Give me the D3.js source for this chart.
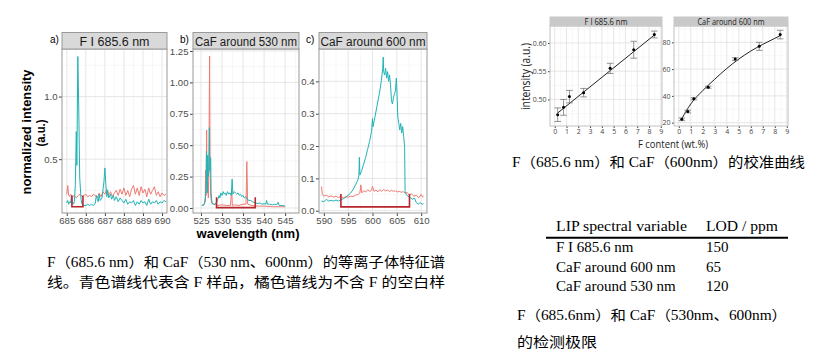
<!DOCTYPE html>
<html>
<head>
<meta charset="utf-8">
<script src="https://cdn.jsdelivr.net/npm/d3@7"></script>
<style>
  body { margin: 0; background: #fff; }
  svg { display: block; }
</style>
</head>
<body>
<svg id="chart" width="815" height="362"></svg>
<script>
// ---- spectra ----
// a) F I 685.6 nm
const aCyanWl = [685.00,685.05,685.10,685.15,685.20,685.25,685.30,685.35,685.40,685.45,685.50,685.53,685.58,685.63,685.68,685.75,685.80,685.90,686.00,686.10,686.20,686.30,686.40,686.50,686.55,686.60,686.65,686.70,686.75,686.85,686.95,687.00,687.05,687.10,687.15,687.20,687.30,687.35,687.45,687.50,687.60,687.70,687.80,687.90,688.00,688.10,688.20,688.30,688.40,688.50,688.60,688.70,688.80,688.90,689.00,689.10,689.20,689.30,689.40,689.50,689.60,689.70,689.80,689.90,690.00,690.10,690.20];
const aCyan = [0.15,0.17,0.14,0.16,0.15,0.21,0.15,0.14,0.16,0.30,0.72,0.45,1.32,0.90,0.35,0.18,0.14,0.13,0.13,0.14,0.13,0.14,0.13,0.15,0.21,0.18,0.16,0.22,0.17,0.19,0.32,0.43,0.30,0.20,0.25,0.19,0.22,0.18,0.21,0.17,0.20,0.16,0.19,0.17,0.15,0.18,0.14,0.16,0.15,0.17,0.13,0.16,0.14,0.17,0.15,0.16,0.13,0.18,0.14,0.16,0.15,0.17,0.14,0.16,0.15,0.17,0.16];
const aRedWl = [685.00,685.05,685.10,685.15,685.20,685.30,685.40,685.50,685.60,685.70,685.80,685.90,686.00,686.10,686.20,686.30,686.40,686.50,686.60,686.70,686.80,686.90,687.00,687.10,687.20,687.30,687.40,687.50,687.60,687.70,687.80,687.90,688.00,688.10,688.20,688.30,688.40,688.50,688.60,688.70,688.80,688.90,689.00,689.10,689.20,689.30,689.40,689.50,689.60,689.70,689.80,689.90,690.00,690.10,690.20];
const aRed = [0.22,0.29,0.21,0.20,0.22,0.20,0.21,0.19,0.21,0.22,0.20,0.21,0.22,0.20,0.21,0.20,0.22,0.21,0.19,0.23,0.20,0.24,0.22,0.26,0.21,0.24,0.20,0.23,0.25,0.21,0.26,0.22,0.27,0.21,0.25,0.20,0.26,0.29,0.22,0.27,0.21,0.28,0.23,0.26,0.20,0.27,0.22,0.25,0.28,0.21,0.24,0.20,0.23,0.21,0.22];

// b) CaF around 530 nm
const bCyanWl = [525.2,525.6,526.0,526.2,526.3,526.4,526.5,526.6,526.7,526.9,527.0,527.1,527.2,527.3,527.4,527.6,527.8,528.2,528.6,529.0,529.3,529.5,529.7,530.0,530.3,530.5,530.8,531.0,531.3,531.6,531.9,532.2,532.4,532.6,532.9,533.2,533.5,533.8,534.1,534.4,534.7,535.0,535.3,535.6,536.0,536.4,536.8,537.2,537.6,538.0,538.5,539.0,539.5,540.0,540.4,540.6,540.8,541.3,542.0,542.5,543.0,543.3,543.6,544.2,545.0];
const bCyan = [0.02,0.02,0.05,0.15,0.45,0.18,0.12,0.42,0.25,0.30,0.64,0.30,0.38,0.40,0.12,0.05,0.03,0.03,0.04,0.07,0.10,0.08,0.12,0.10,0.13,0.11,0.12,0.10,0.13,0.11,0.12,0.10,0.23,0.11,0.13,0.12,0.11,0.12,0.10,0.11,0.09,0.10,0.08,0.09,0.07,0.06,0.06,0.05,0.045,0.04,0.035,0.04,0.03,0.035,0.03,0.06,0.03,0.03,0.025,0.03,0.025,0.045,0.02,0.02,0.015];
const bRedWl = [525.2,525.8,526.0,526.1,526.2,526.35,526.45,526.6,526.75,526.9,527.05,527.15,527.3,527.5,528.0,529.0,530.0,531.0,532.0,532.3,532.45,533.0,534.0,535.0,535.7,535.9,536.1,537.0,538.0,540.0,542.0,545.0];
const bRed = [0.02,0.03,0.08,0.30,0.10,0.62,0.15,0.20,0.08,0.45,1.21,0.35,0.10,0.04,0.03,0.02,0.025,0.02,0.02,0.15,0.02,0.025,0.02,0.03,0.03,0.37,0.03,0.02,0.015,0.015,0.01,0.01];

// c) CaF around 600 nm
const cCyanWl = [589.5,590.0,590.5,591.0,591.5,592.0,592.5,593.0,593.5,594.0,594.5,595.0,595.5,596.0,596.5,597.0,597.2,597.3,597.4,597.8,598.2,598.6,599.0,599.4,599.8,600.0,600.1,600.5,601.0,601.5,601.8,602.1,602.2,602.3,602.5,602.7,602.9,603.1,603.3,603.5,603.7,603.9,604.1,604.3,604.5,604.7,604.9,605.0,605.2,605.4,605.6,605.8,606.0,606.2,606.4,606.6,606.7,606.9,607.3,607.8,608.3,608.6,609.0,609.4,609.8,610.2,610.5];
const cCyan = [0.030,0.028,0.035,0.030,0.032,0.030,0.033,0.030,0.034,0.037,0.042,0.048,0.055,0.065,0.080,0.095,0.110,0.165,0.110,0.125,0.145,0.165,0.190,0.215,0.245,0.285,0.260,0.290,0.330,0.370,0.400,0.440,0.475,0.430,0.420,0.440,0.410,0.430,0.400,0.420,0.390,0.340,0.330,0.350,0.360,0.370,0.410,0.380,0.290,0.270,0.250,0.270,0.240,0.260,0.230,0.200,0.060,0.050,0.045,0.040,0.035,0.040,0.025,0.020,0.025,0.020,0.022];
const cRedWl = [589.5,589.7,590.0,590.5,591.0,591.5,592.0,592.5,593.0,593.5,594.0,594.5,595.0,595.5,596.0,596.5,597.0,597.4,597.6,597.8,598.2,598.6,599.0,599.4,599.8,600.0,600.3,600.7,601.1,601.5,601.9,602.3,602.7,603.1,603.5,603.9,604.3,604.7,605.1,605.5,605.9,606.3,606.7,607.1,607.5,608.0,608.5,609.0,609.5,610.0,610.3,610.5];
const cRed = [0.075,0.050,0.045,0.048,0.043,0.046,0.042,0.045,0.041,0.044,0.040,0.043,0.042,0.045,0.044,0.048,0.050,0.055,0.080,0.055,0.062,0.058,0.065,0.060,0.063,0.075,0.060,0.064,0.058,0.065,0.060,0.066,0.061,0.064,0.059,0.063,0.060,0.062,0.058,0.060,0.057,0.059,0.055,0.056,0.050,0.052,0.045,0.048,0.040,0.050,0.042,0.045];

// integration windows marked in red: [wlFrom, wlTo, low, high]
const bracketA = [685.27, 685.85, 0.12, 0.21];
const bracketB = [528.7, 537.9, 0.003, 0.085];
const bracketC = [593.5, 607.6, 0.012, 0.052];

// ---- calibration ----
const fContent = [0.25, 0.75, 1.25, 2.45, 4.7, 6.7, 8.45];
const fIntensity = [0.473, 0.486, 0.505, 0.512, 0.555, 0.588, 0.615];
const fErr = [0.012, 0.014, 0.011, 0.0075, 0.009, 0.015, 0.006];
const fFitX = [0.25, 8.45];
const fFitY = [0.476, 0.614];
const cafIntensity = [22.5, 28.3, 37.8, 46.5, 67.5, 77.0, 85.8];
const cafErr = [1.0, 1.0, 0.8, 0.8, 1.0, 3.0, 3.2];
const cafFitX = [0.25, 1, 2, 3, 4, 5, 6, 7, 8, 8.45];
const cafFitY = [23, 34, 44, 52.5, 60.5, 67.5, 73.5, 78.5, 83, 85];

// ---- LOD table ----
const lodVariables = ["F I 685.6 nm", "CaF around 600 nm", "CaF around 530 nm"];
const lodValues = [150, 65, 120];

const cyan = "#22b3b5", salmon = "#f07a72", bracketRed = "#b8262d";
const sans = "'Liberation Sans', Arial, sans-serif";
const serif = "'Liberation Serif', 'Noto Sans CJK SC', serif";
const cjk = "'Liberation Serif', 'Noto Sans CJK SC', sans-serif";

const svg = d3.select("#chart");
svg.append("rect").attr("width", 815).attr("height", 362).attr("fill", "#fff");

function txt(parent, s, x, y, o = {}) {
  const t = parent.append("text")
    .attr("x", x).attr("y", y)
    .attr("font-family", o.family || sans)
    .attr("font-size", o.size || 12)
    .attr("fill", o.fill || "#000")
    .attr("text-anchor", o.anchor || "start")
    .text(s);
  if (o.weight) t.attr("font-weight", o.weight);
  if (o.len) t.attr("textLength", o.len).attr("lengthAdjust", "spacingAndGlyphs");
  if (o.rotate) t.attr("transform", `rotate(${o.rotate},${x},${y})`);
  return t;
}

let clipId = 0;
function facet(p) {
  const x = d3.scaleLinear().domain(p.xDomain).range([p.left, p.right]);
  const y = d3.scaleLinear().domain(p.yDomain).range([p.bottom, p.top]);
  const g = svg.append("g");
  const w = p.right - p.left, h = p.bottom - p.top;

  g.append("g").selectAll("line").data(p.xMinor).join("line")
    .attr("x1", d => x(d)).attr("x2", d => x(d)).attr("y1", p.top).attr("y2", p.bottom)
    .attr("stroke", "#f2f2f2").attr("stroke-width", 0.6);
  g.append("g").selectAll("line").data(p.yMinor).join("line")
    .attr("y1", d => y(d)).attr("y2", d => y(d)).attr("x1", p.left).attr("x2", p.right)
    .attr("stroke", "#f2f2f2").attr("stroke-width", 0.6);
  g.append("g").selectAll("line").data(p.xTicks).join("line")
    .attr("x1", d => x(d)).attr("x2", d => x(d)).attr("y1", p.top).attr("y2", p.bottom)
    .attr("stroke", "#e3e3e3").attr("stroke-width", 0.9);
  g.append("g").selectAll("line").data(p.yTicks).join("line")
    .attr("y1", d => y(d)).attr("y2", d => y(d)).attr("x1", p.left).attr("x2", p.right)
    .attr("stroke", "#e3e3e3").attr("stroke-width", 0.9);

  const id = "clip" + (clipId++);
  svg.append("clipPath").attr("id", id).append("rect")
    .attr("x", p.left).attr("y", p.top).attr("width", w).attr("height", h);
  const marks = g.append("g").attr("clip-path", `url(#${id})`);

  // axes
  const ax = g.append("g").attr("transform", `translate(0,${p.bottom})`)
    .call(d3.axisBottom(x).tickValues(p.xTicks).tickFormat(p.xFormat).tickSize(p.tick).tickPadding(p.pad));
  const ay = g.append("g").attr("transform", `translate(${p.left},0)`)
    .call(d3.axisLeft(y).tickValues(p.yTicks).tickFormat(p.yFormat).tickSize(p.tick).tickPadding(p.pad));
  [ax, ay].forEach(a => {
    a.select(".domain").remove();
    a.selectAll("line").attr("stroke", "#444");
    a.selectAll("text").attr("font-family", p.font).attr("font-size", p.tickSize).attr("fill", p.tickFill);
  });

  g.append("rect").attr("x", p.left).attr("y", p.top).attr("width", w).attr("height", h)
    .attr("fill", "none").attr("stroke", p.border).attr("stroke-width", 1);
  g.append("rect").attr("x", p.left).attr("y", p.stripTop).attr("width", w).attr("height", p.top - p.stripTop)
    .attr("fill", p.stripFill).attr("stroke", p.stripStroke).attr("stroke-width", 1);
  txt(g, p.title, (p.left + p.right) / 2, p.stripBase, {anchor: "middle", size: p.stripSize, fill: "#1a1a1a", len: p.titleLen, family: p.font});
  return {x, y, g, marks};
}

// ---- left block: spectra ----
const specStyle = {top: 49, bottom: 213, stripTop: 32.5, stripBase: 45.5, tick: 3, pad: 1.5,
  font: sans, tickSize: 9.6, tickFill: "#4d4d4d", border: "#9a9a9a",
  stripFill: "#d9d9d9", stripStroke: "#9a9a9a", stripSize: 12};

const line = d3.line().x(d => d[0]).y(d => d[1]);
function spectrum(f, wl, val, colour) {
  f.marks.append("path")
    .datum(d3.zip(wl, val).map(([a, b]) => [f.x(a), f.y(b)]))
    .attr("d", line).attr("fill", "none").attr("stroke", colour).attr("stroke-width", 1)
    .attr("stroke-linejoin", "round");
}
function bracket(f, b) {
  const [x0, x1, lo, hi] = b;
  f.marks.append("path")
    .attr("d", `M${f.x(x0)},${f.y(hi)}V${f.y(lo)}H${f.x(x1)}V${f.y(hi)}`)
    .attr("fill", "none").attr("stroke", bracketRed).attr("stroke-width", 1.6);
}

const pa = facet({...specStyle, left: 62, right: 167, xDomain: [684.75, 690.26], yDomain: [0.07, 1.38],
  xTicks: [685, 686, 687, 688, 689, 690], xMinor: [685.5, 686.5, 687.5, 688.5, 689.5],
  yTicks: [0.5, 1.0], yMinor: [0.25, 0.75, 1.25], xFormat: d3.format("d"), yFormat: d3.format(".1f"),
  title: "F I 685.6 nm", titleLen: 70});
spectrum(pa, aRedWl, aRed, salmon);
spectrum(pa, aCyanWl, aCyan, cyan);
bracket(pa, bracketA);
// the six wavelength labels of panel a sit shoulder to shoulder
pa.g.selectAll("g.tick text").filter(d => d >= 685).attr("textLength", 16).attr("lengthAdjust", "spacingAndGlyphs");

const pb = facet({...specStyle, left: 193, right: 299, xDomain: [523.1, 548.3], yDomain: [-0.04, 1.266],
  xTicks: [525, 530, 535, 540, 545], xMinor: [527.5, 532.5, 537.5, 542.5, 547.5],
  yTicks: [0, 0.25, 0.5, 0.75, 1.0, 1.25], yMinor: [0.125, 0.375, 0.625, 0.875, 1.125],
  xFormat: d3.format("d"), yFormat: d3.format(".2f"), title: "CaF around 530 nm", titleLen: 102});
spectrum(pb, bRedWl, bRed, salmon);
spectrum(pb, bCyanWl, bCyan, cyan);
bracket(pb, bracketB);

const pc = facet({...specStyle, left: 319, right: 427, xDomain: [589.0, 611.2], yDomain: [-0.007, 0.5],
  xTicks: [590, 595, 600, 605, 610], xMinor: [592.5, 597.5, 602.5, 607.5],
  yTicks: [0, 0.1, 0.2, 0.3, 0.4], yMinor: [0.05, 0.15, 0.25, 0.35, 0.45],
  xFormat: d3.format("d"), yFormat: d3.format(".1f"), title: "CaF around 600 nm", titleLen: 105});
spectrum(pc, cRedWl, cRed, salmon);
spectrum(pc, cCyanWl, cCyan, cyan);
bracket(pc, bracketC);

txt(svg, "a)", 50, 43, {size: 10});
txt(svg, "b)", 180, 43, {size: 10});
txt(svg, "c)", 306, 43, {size: 10});
txt(svg, "normalized intensity", 31, 132, {anchor: "middle", rotate: -90, size: 13, weight: "bold", len: 125});
txt(svg, "(a.u.)", 45, 133, {anchor: "middle", rotate: -90, size: 13, weight: "bold", len: 27});
txt(svg, "wavelength (nm)", 248, 237.5, {anchor: "middle", size: 12.5, weight: "bold", len: 103});

txt(svg, "F（685.6 nm）和 CaF（530 nm、600nm）的等离子体特征谱", 47, 267, {family: cjk, size: 14, len: 398});
txt(svg, "线。青色谱线代表含 F 样品，橘色谱线为不含 F 的空白样", 47, 287, {family: cjk, size: 14, len: 398});

// ---- right top: calibration ----
const calStyle = {top: 26, bottom: 126, stripTop: 17, stripBase: 24.5, tick: 2, pad: 1.5,
  font: "'Open Sans', sans-serif", tickSize: 7, tickFill: "#444", border: "#c2c2c2",
  stripFill: "#c9c9c9", stripStroke: "#c9c9c9", stripSize: 8.5,
  xDomain: [-0.4, 9.1], xTicks: d3.range(0, 10), xMinor: d3.range(0.5, 9, 1), xFormat: d3.format("d")};

function calibration(f, xs, ys, errs, fitX, fitY) {
  f.marks.append("path")
    .datum(d3.zip(fitX, fitY).map(([a, b]) => [f.x(a), f.y(b)]))
    .attr("d", d3.line().curve(d3.curveMonotoneX)).attr("fill", "none").attr("stroke", "#222").attr("stroke-width", 1);
  const pts = d3.zip(xs, ys, errs);
  const eb = f.marks.append("g").attr("stroke", "#7a7a7a").attr("stroke-width", 0.8);
  eb.selectAll("path").data(pts).join("path")
    .attr("d", ([a, b, e]) => {
      const cx = f.x(a), y0 = f.y(b - e), y1 = f.y(b + e);
      return `M${cx - 3.3},${y0}H${cx + 3.3}M${cx},${y0}V${y1}M${cx - 3.3},${y1}H${cx + 3.3}`;
    });
  f.marks.append("g").selectAll("circle").data(pts).join("circle")
    .attr("cx", d => f.x(d[0])).attr("cy", d => f.y(d[1])).attr("r", 1.5).attr("fill", "#000");
}

const cf = facet({...calStyle, left: 550, right: 662, yDomain: [0.453, 0.63],
  yTicks: [0.50, 0.55, 0.60], yMinor: [0.475, 0.525, 0.575, 0.625], yFormat: d3.format(".2f"),
  title: "F I 685.6 nm", titleLen: 43});
calibration(cf, fContent, fIntensity, fErr, fFitX, fFitY);

const cc = facet({...calStyle, left: 674, right: 788, yDomain: [17.5, 92.2],
  yTicks: [20, 40, 60, 80], yMinor: [30, 50, 70, 90], yFormat: d3.format("d"),
  title: "CaF around 600 nm", titleLen: 67});
calibration(cc, fContent, cafIntensity, cafErr, cafFitX, cafFitY);

txt(svg, "intensity (a.u.)", 530, 76.5, {anchor: "middle", rotate: -90, size: 13, family: "'Open Sans', sans-serif", fill: "#222", len: 67});
txt(svg, "F content (wt.%)", 673, 148, {anchor: "middle", size: 11, family: "'Open Sans', sans-serif", fill: "#222", len: 70});

txt(svg, "F（685.6 nm）和 CaF（600nm）的校准曲线", 512, 167, {family: cjk, size: 14, len: 293});

// ---- right bottom: LOD table ----
const tbl = svg.append("g");
txt(tbl, "LIP spectral variable", 556, 231, {family: serif, size: 15, len: 131});
txt(tbl, "LOD / ppm", 706, 231, {family: serif, size: 15, len: 72});
tbl.append("line").attr("x1", 546).attr("x2", 788).attr("y1", 237.7).attr("y2", 237.7)
  .attr("stroke", "#000").attr("stroke-width", 2);
const rowY = d3.scalePoint().domain(lodVariables).range([252, 291]);
tbl.selectAll("text.var").data(lodVariables).join("text").attr("class", "var")
  .attr("x", 556).attr("y", d => rowY(d))
  .attr("font-family", serif).attr("font-size", 15)
  .text(d => d);
tbl.selectAll("text.val").data(d3.zip(lodVariables, lodValues)).join("text").attr("class", "val")
  .attr("x", 706).attr("y", d => rowY(d[0]))
  .attr("font-family", serif).attr("font-size", 15)
  .text(d => d[1]);

txt(svg, "F（685.6nm）和 CaF（530nm、600nm）", 517, 320, {family: cjk, size: 14, len: 270});
txt(svg, "的检测极限", 517, 347, {family: cjk, size: 14, len: 80});
</script>
</body>
</html>
